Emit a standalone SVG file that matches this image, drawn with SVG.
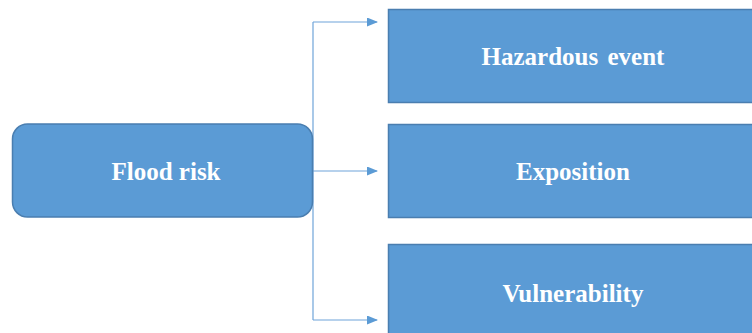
<svg xmlns="http://www.w3.org/2000/svg" width="752" height="333" viewBox="0 0 752 333">
<style>
.box{fill:#5B9BD5;stroke:#4A7EB0;stroke-width:1.5}
.lbl{font-family:"Liberation Serif",serif;font-weight:bold;font-size:25px;fill:#fff;text-anchor:middle}
.conn{fill:none;stroke:#6FA4D9;stroke-width:1.2}
</style>
<defs>
<marker id="ah" markerWidth="11" markerHeight="9" refX="10" refY="4.5" orient="auto" markerUnits="userSpaceOnUse">
<path d="M0,0 L11,4.5 L0,9 Z" fill="#5B9BD5"/>
</marker>
</defs>
<rect width="752" height="333" fill="#fff"/>
<g id="connectors">
<path class="conn" d="M313,22 V320"/>
<path class="conn" d="M313,22 H377" marker-end="url(#ah)"/>
<path class="conn" d="M313,171 H377" marker-end="url(#ah)"/>
<path class="conn" d="M313,320 H377" marker-end="url(#ah)"/>
</g>
<g id="flood-risk">
<rect class="box" x="12.5" y="124" width="300" height="93" rx="15"/>
<text class="lbl" x="166" y="180">Flood risk</text>
</g>
<g id="hazardous-event">
<rect class="box" x="388.5" y="9.5" width="372" height="93"/>
<text class="lbl" x="573" y="65" word-spacing="3">Hazardous event</text>
</g>
<g id="exposition">
<rect class="box" x="388.5" y="124.5" width="372" height="93"/>
<text class="lbl" x="573" y="180">Exposition</text>
</g>
<g id="vulnerability">
<rect class="box" x="388.5" y="244.5" width="372" height="93"/>
<text class="lbl" x="573" y="302">Vulnerability</text>
</g>
</svg>
